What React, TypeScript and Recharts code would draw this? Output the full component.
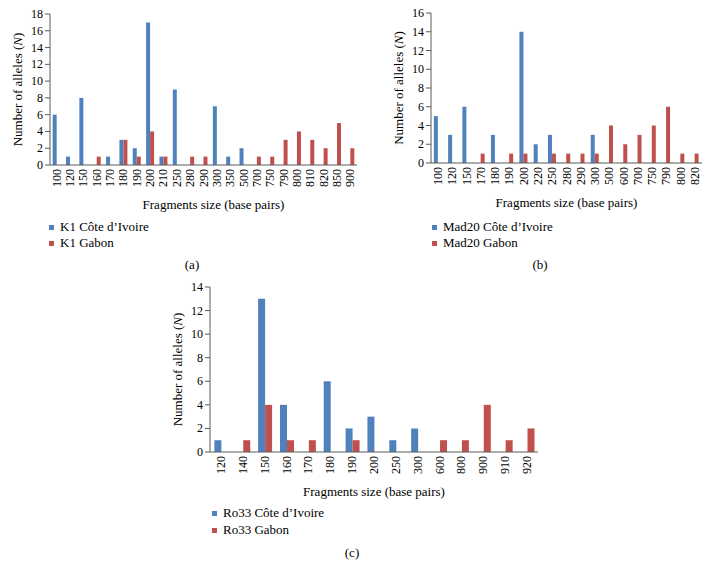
import React from "react";
import { BarChart, Bar, XAxis, YAxis } from "recharts";

const BLUE = "#4F81BD";
const RED = "#C0504D";
const AXIS = "#5a5a5a";
const FONT = "Liberation Serif, DejaVu Serif, serif";

// Panel (a) K1
const k1Sizes = ["100","120","150","160","170","180","190","200","210","250","280","290","300","350","500","700","750","790","800","810","820","850","900"];
const k1Cote = [6,1,8,0,1,3,2,17,1,9,0,0,7,1,2,0,0,0,0,0,0,0,0];
const k1Gabon = [0,0,0,1,0,3,1,4,1,0,1,1,0,0,0,1,1,3,4,3,2,5,2];
const k1Ticks = [0,2,4,6,8,10,12,14,16,18];

// Panel (b) Mad20
const madSizes = ["100","120","150","170","180","190","200","220","250","280","290","300","500","600","700","750","790","800","820"];
const madCote = [5,3,6,0,3,0,14,2,3,0,0,3,0,0,0,0,0,0,0];
const madGabon = [0,0,0,1,0,1,1,0,1,1,1,1,4,2,3,4,6,1,1];
const madTicks = [0,2,4,6,8,10,12,14,16];

// Panel (c) Ro33
const roSizes = ["120","140","150","160","170","180","190","200","250","300","600","800","900","910","920"];
const roCote = [1,0,13,4,0,6,2,3,1,2,0,0,0,0,0];
const roGabon = [0,1,4,1,1,0,1,0,0,0,1,1,4,1,2];
const roTicks = [0,2,4,6,8,10,12,14];

const build = (cats: string[], a: number[], b: number[]) =>
  cats.map((c, i) => ({ size: c, cote: a[i], gabon: b[i] }));

const XTick = (props: any) => {
  const { x, y, payload } = props;
  return (
    <text
      x={x}
      y={y}
      transform={`rotate(-90 ${x} ${y})`}
      textAnchor="end"
      dominantBaseline="central"
      style={{ fontFamily: FONT, fontSize: 12 }}
      fill="#000"
    >
      {payload.value}
    </text>
  );
};

const YTick = (props: any) => {
  const { x, y, payload } = props;
  return (
    <text
      x={x}
      y={y}
      textAnchor="end"
      dominantBaseline="central"
      style={{ fontFamily: FONT, fontSize: 12 }}
      fill="#000"
    >
      {payload.value}
    </text>
  );
};

const YTitle = (props: any) => {
  const vb = props.viewBox || {};
  const cx = vb.x + vb.width - 33;
  const cy = vb.y + vb.height / 2;
  return (
    <text
      x={cx}
      y={cy}
      transform={`rotate(-90 ${cx} ${cy})`}
      textAnchor="middle"
      dominantBaseline="central"
      style={{ fontFamily: FONT, fontSize: 13 }}
      fill="#000"
    >
      <tspan>Number of alleles (</tspan>
      <tspan fontStyle="italic">N</tspan>
      <tspan>)</tspan>
    </text>
  );
};

const XTitle = (props: any) => {
  const vb = props.viewBox || {};
  const cx = vb.x + vb.width / 2 + (props.shift || 0);
  const cy = vb.y + 39;
  return (
    <text
      x={cx}
      y={cy}
      textAnchor="middle"
      dominantBaseline="central"
      style={{ fontFamily: FONT, fontSize: 13 }}
      fill="#000"
    >
      Fragments size (base pairs)
    </text>
  );
};

type PanelProps = {
  left: number;
  top: number;
  width: number;
  height: number;
  marginLeft: number;
  marginRight: number;
  marginTop: number;
  data: any[];
  ticks: number[];
  max: number;
  titleShift?: number;
};

const Panel = ({ left, top, width, height, marginLeft, marginRight, marginTop, data, ticks, max, titleShift = 0 }: PanelProps) => (
  <div style={{ position: "absolute", left, top }}>
    <BarChart
      width={width}
      height={height}
      data={data}
      margin={{ top: marginTop, right: marginRight, left: marginLeft, bottom: 0 }}
      barCategoryGap="20%"
      barGap={0}
      style={{ fontFamily: FONT }}
    >
      <XAxis
        dataKey="size"
        interval={0}
        tick={<XTick />}
        tickLine={false}
        tickSize={0}
        tickMargin={4}
        height={55}
        axisLine={{ stroke: AXIS }}
        label={<XTitle shift={titleShift} />}
      />
      <YAxis
        width={50}
        domain={[0, max]}
        ticks={ticks}
        interval={0}
        tickSize={5}
        tickMargin={2}
        axisLine={{ stroke: AXIS }}
        tickLine={{ stroke: AXIS }}
        tick={<YTick />}
        label={<YTitle />}
      />
      <Bar dataKey="cote" fill={BLUE} isAnimationActive={false} />
      <Bar dataKey="gabon" fill={RED} isAnimationActive={false} />
    </BarChart>
  </div>
);

const LegendBox = ({ left, top, gap, names, caption, capLeft, capTop }: any) => (
  <>
    <div style={{ position: "absolute", left, top, fontFamily: FONT, fontSize: 13, color: "#000" }}>
      {names.map((n: string, i: number) => (
        <div key={n} style={{ position: "absolute", top: i * gap, left: 0, whiteSpace: "nowrap", lineHeight: "14px" }}>
          <span
            style={{
              position: "absolute",
              left: 0,
              top: 5,
              width: 5,
              height: 5,
              background: i === 0 ? BLUE : RED,
            }}
          />
          <span style={{ position: "absolute", left: 11, top: 0 }}>{n}</span>
        </div>
      ))}
    </div>
    <div
      style={{
        position: "absolute",
        left: capLeft - 20,
        width: 40,
        top: capTop,
        textAlign: "center",
        fontFamily: FONT,
        fontSize: 13,
        lineHeight: "14px",
      }}
    >
      {caption}
    </div>
  </>
);

export default function App() {
  return (
    <div style={{ position: "absolute", left: 0, top: 0, width: 710, height: 579, background: "#fff", fontFamily: FONT }}>
      <Panel left={0} top={0} width={360} height={220} marginLeft={0} marginRight={3} marginTop={14}
        data={build(k1Sizes, k1Cote, k1Gabon)} ticks={k1Ticks} max={18} titleShift={10} />
      <Panel left={360} top={0} width={350} height={218} marginLeft={21} marginRight={8} marginTop={13}
        data={build(madSizes, madCote, madGabon)} ticks={madTicks} max={16} />
      <Panel left={160} top={270} width={390} height={237} marginLeft={0} marginRight={12} marginTop={17}
        data={build(roSizes, roCote, roGabon)} ticks={roTicks} max={14} />
      <LegendBox left={49} top={220} gap={16} names={["K1 Côte d’Ivoire", "K1 Gabon"]} caption="(a)" capLeft={192} capTop={258} />
      <LegendBox left={432} top={220} gap={16} names={["Mad20 Côte d’Ivoire", "Mad20 Gabon"]} caption="(b)" capLeft={540} capTop={258} />
      <LegendBox left={212} top={506} gap={17} names={["Ro33 Côte d’Ivoire", "Ro33 Gabon"]} caption="(c)" capLeft={352} capTop={546} />
    </div>
  );
}
